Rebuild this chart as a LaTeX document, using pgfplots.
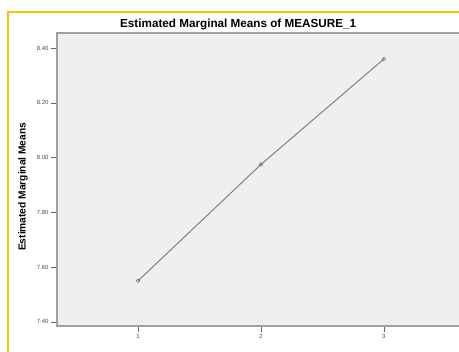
\documentclass[border=0pt]{standalone}
\usepackage{pgfplots}
\pgfplotsset{compat=1.18}
\usepackage{fontspec}
\setmainfont{Liberation Sans}
\definecolor{frameorange}{HTML}{FFC000}
\definecolor{bggray}{HTML}{EFEFEF}
\definecolor{axgray}{HTML}{A0A0A0}
\definecolor{lngray}{HTML}{777777}
\begin{document}
\begin{tikzpicture}
\useasboundingbox (0pt,0pt) rectangle (459pt,-352pt);
\fill[white] (0pt,0pt) rectangle (459pt,-352pt);
\draw[frameorange, line width=2pt] (8pt,-352pt) -- (8pt,-12pt) -- (470pt,-12pt);
\begin{axis}[
  at={(57pt,-326pt)}, anchor=south west,
  scale only axis, width=408pt, height=293pt,
  xmin=0.34, xmax=3.66, ymin=7.385, ymax=8.455,
  axis background/.style={fill=bggray},
  axis line style={axgray, line width=1.2pt},
  xtick={1,2,3}, ytick={7.4,7.6,7.8,8.0,8.2,8.4},
  yticklabel style={/pgf/number format/fixed, /pgf/number format/fixed zerofill, /pgf/number format/precision=2},
  /pgf/number format/assume math mode=true,
  tick label style={font=\fontsize{6}{6}\selectfont, text=black!70},
  yticklabel style={xshift=1pt},
  xticklabel style={yshift=1pt},
  tick align=outside, tick style={black!60, line width=0.6pt}, major tick length=6pt,
  xtick pos=bottom, ytick pos=left,
  title={\textbf{Estimated Marginal Means of MEASURE\_1}},
  title style={font=\fontsize{11.7}{12}\selectfont, at={(0.444,1)}, anchor=south, yshift=-6.5pt},
  ylabel={\textbf{Estimated Marginal Means}},
  ylabel style={font=\fontsize{10.2}{11}\selectfont, at={(rel axis cs:-0.063,0.475)}, anchor=south},
  clip=false,
]
\addplot[lngray, line width=0.9pt, mark=o, mark size=1.8pt, mark options={lngray, line width=0.6pt}]
coordinates {(1,7.55) (2,7.975) (3,8.36)};
\end{axis}
\end{tikzpicture}
\end{document}
